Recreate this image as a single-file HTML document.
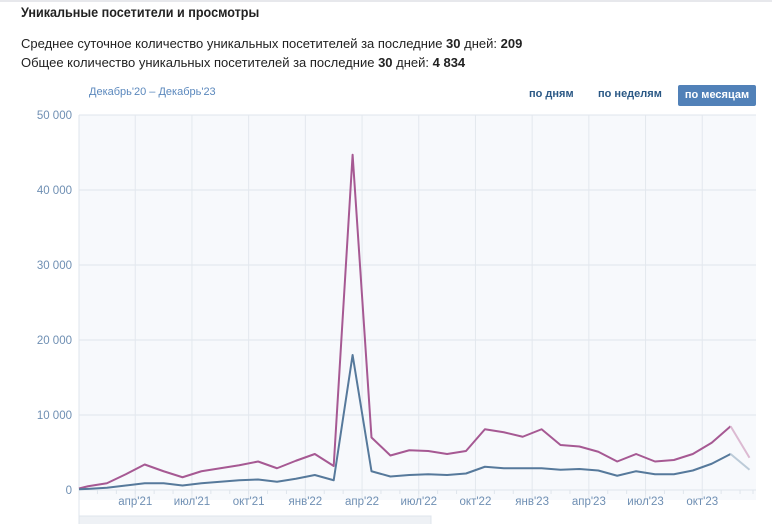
<!DOCTYPE html>
<html><head><meta charset="utf-8">
<style>
body{margin:0;width:772px;height:524px;overflow:hidden;background:#fff;font-family:"Liberation Sans",sans-serif;position:relative}
.t{position:absolute;white-space:nowrap}
</style></head><body>
<div style="position:absolute;left:0;top:0;width:772px;height:2px;background:#e7e8ec"></div>
<div class="t" style="left:21px;top:4px;font-size:14px;font-weight:bold;color:#222;transform:scaleX(0.9);transform-origin:left">Уникальные посетители и просмотры</div>
<div class="t" style="left:21px;top:36px;font-size:13px;color:#222">Среднее суточное количество уникальных посетителей за последние <b>30</b> дней: <b>209</b></div>
<div class="t" style="left:21px;top:55px;font-size:13px;color:#222">Общее количество уникальных посетителей за последние <b>30</b> дней: <b>4 834</b></div>
<div class="t" style="left:89px;top:86px;font-size:11px;color:#5b88bd">Декабрь'20 – Декабрь'23</div>
<div class="t" style="left:529px;top:88px;font-size:11px;font-weight:bold;color:#2a5885">по дням</div>
<div class="t" style="left:598px;top:88px;font-size:11px;font-weight:bold;color:#2a5885">по неделям</div>
<div class="t" style="left:678px;top:85px;width:78px;height:21px;line-height:21px;text-align:center;border-radius:2px;background:#5181b8;font-size:11px;font-weight:bold;color:#fff">по месяцам</div>
<svg id="ch" width="772" height="524" style="position:absolute;left:0;top:0"></svg>
<script>
const categories=["дек'20","янв'21","фев'21","мар'21","апр'21","май'21","июн'21","июл'21","авг'21","сен'21","окт'21","ноя'21","дек'21","янв'22","фев'22","мар'22","апр'22","май'22","июн'22","июл'22","авг'22","сен'22","окт'22","ноя'22","дек'22","янв'23","фев'23","мар'23","апр'23","май'23","июн'23","июл'23","авг'23","сен'23","окт'23","ноя'23","дек'23"];
const views=[200,500,900,2100,3400,2500,1700,2500,2900,3300,3800,2900,3900,4800,3200,44700,7000,4600,5300,5200,4800,5200,8100,7700,7100,8100,6000,5800,5100,3800,4800,3800,4000,4800,6300,8500,4300];
const visitors=[100,150,300,600,900,900,600,900,1100,1300,1400,1100,1500,2000,1300,18000,2500,1800,2000,2100,2000,2200,3100,2900,2900,2900,2700,2800,2600,1900,2500,2100,2100,2600,3500,4800,2700];
const yTicks=[0,10000,20000,30000,40000,50000];
const yTickLabels=["0","10 000","20 000","30 000","40 000","50 000"];
const xTickIdx=[3.5,6.5,9.5,12.5,15.5,18.5,21.5,24.5,27.5,30.5,33.5];
const xTickLabels=["апр'21","июл'21","окт'21","янв'22","апр'22","июл'22","окт'22","янв'23","апр'23","июл'23","окт'23"];
const L=79,R=756,T=115,B=490;
const x=i=>Math.min(753,Math.max(L,69.1+18.9*i));
const y=v=>B-(v/50000)*(B-T);
const svg=document.getElementById('ch');
const NS='http://www.w3.org/2000/svg';
function mk(tag,a){const e=document.createElementNS(NS,tag);for(const k in a)e.setAttribute(k,a[k]);svg.appendChild(e);return e;}
const bg=mk('rect',{x:L,y:T,width:R-L,height:B-T+10,fill:'#f7f9fc'});


yTicks.forEach((v,k)=>{
 const g=mk('line',{x1:L,x2:R,y1:y(v),y2:y(v),stroke:'#dfe5ec','stroke-width':1});
 
 
 const t=mk('text',{x:72,y:y(v)+4,'text-anchor':'end','font-size':11.5,fill:'#6f8fb3','font-family':'Liberation Sans, sans-serif'});
 t.textContent=yTickLabels[k];
 
 
});
xTickIdx.forEach((v,k)=>{
 const px=x(v);
 const g=mk('line',{x1:px,x2:px,y1:T,y2:B+10,stroke:'#e3e8ee','stroke-width':1});
 
 
 const t=mk('text',{x:px,y:B+15,'text-anchor':'middle','font-size':11.5,fill:'#6f8fb3','font-family':'Liberation Sans, sans-serif'});
 t.textContent=xTickLabels[k];
 
 
});
categories.forEach((c,i)=>{
 const px=x(i+0.5);
 if(px<R){const m=mk('line',{x1:px,x2:px,y1:B,y2:B+4,stroke:'#dfe5ec'});
 
 }
});
const ax=mk('line',{x1:L,x2:L,y1:T,y2:524,stroke:'#dfe5ec'});


const nav=mk('rect',{x:L,y:B+26,width:352,height:12,fill:'#eef1f5',stroke:'#dfe5ec'});


function series(vals,col,fade,name){
 const n=vals.length;
 const d=vals.slice(0,n-1).map((v,i)=>(i?'L':'M')+x(i)+','+y(v)).join('');
 const p=mk('path',{d:d,fill:'none',stroke:col,'stroke-width':2,'stroke-linejoin':'round'});
 
 
 const q=mk('path',{d:'M'+x(n-2)+','+y(vals[n-2])+'L'+x(n-1)+','+y(vals[n-1]),fill:'none',stroke:fade,'stroke-width':2});
 
 
}
series(views,'#a65993','#dcbad2','views-line');
series(visitors,'#56799b','#bccbd8','visitors-line');
</script>
</body></html>
